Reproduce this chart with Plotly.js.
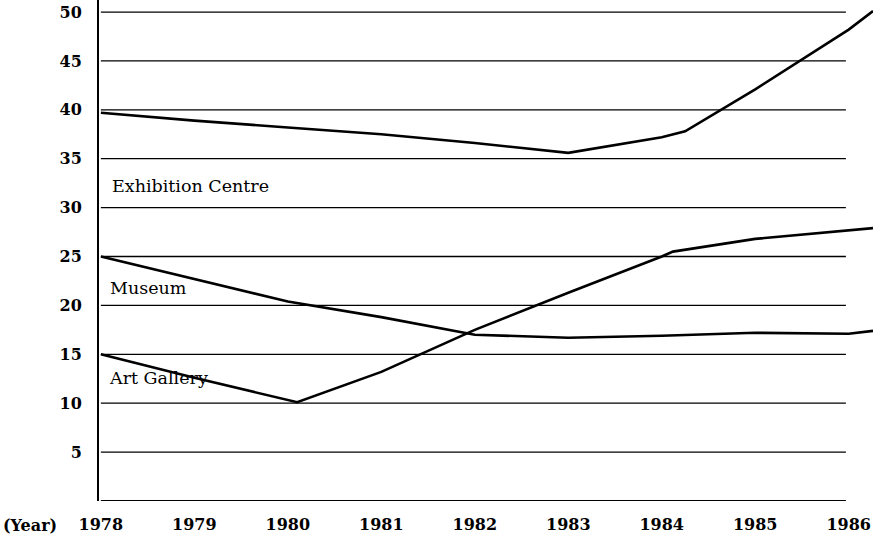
<!DOCTYPE html>
<html>
<head>
<meta charset="utf-8">
<script src="https://cdn.plot.ly/plotly-3.0.1.min.js"></script>
<style>html,body{margin:0;padding:0;background:#fff;}#chart{width:873px;height:539px;}</style>
</head>
<body>
<div id="chart"></div>
<script>
// Data (visitors, y units)
const exhibitionYears = [1978, 1979, 1980, 1981, 1982, 1983, 1984, 1984.25, 1985, 1986, 1986.26];
const exhibitionValues = [39.7, 38.9, 38.2, 37.5, 36.6, 35.6, 37.2, 37.8, 42.1, 48.2, 50.1];

const museumYears = [1978, 1979, 1980, 1981, 1982, 1983, 1984, 1985, 1986, 1986.26];
const museumValues = [25.0, 22.7, 20.4, 18.8, 17.0, 16.7, 16.9, 17.2, 17.1, 17.4];

const artYears = [1978, 1979, 1980.1, 1981, 1982, 1983, 1984, 1984.12, 1985, 1986, 1986.26];
const artValues = [15.0, 12.6, 10.1, 13.2, 17.5, 21.3, 25.0, 25.5, 26.8, 27.7, 27.9];

const seriesNames = ["Exhibition Centre", "Museum", "Art Gallery"];
const xTickYears = [1978, 1979, 1980, 1981, 1982, 1983, 1984, 1985, 1986];
const yTickValues = [5, 10, 15, 20, 25, 30, 35, 40, 45, 50];
const gridValues = [0, 5, 10, 15, 20, 25, 30, 35, 40, 45, 50];

const serif = "DejaVu Serif, Liberation Serif, serif";
const lineStyle = {color: "#000", width: 2.6};

const traces = [
  {x: exhibitionYears, y: exhibitionValues, name: seriesNames[0]},
  {x: museumYears, y: museumValues, name: seriesNames[1]},
  {x: artYears, y: artValues, name: seriesNames[2]}
].map(t => Object.assign(t, {type: "scatter", mode: "lines", line: lineStyle, hoverinfo: "skip"}));

const gridShapes = gridValues.map(v => ({
  type: "line", xref: "x", yref: "y",
  x0: 1978, x1: 1985.97, y0: v, y1: v,
  line: {color: "#000", width: v === 0 ? 2 : 1.3},
  layer: "below"
}));

const labelFont = {family: serif, size: 17.5, color: "#000"};
const annotations = [
  {x: 1978.1, y: 32.2, text: seriesNames[0], xanchor: "left", yanchor: "middle", showarrow: false, font: labelFont},
  {x: 1978.08, y: 21.8, text: seriesNames[1], xanchor: "left", yanchor: "middle", showarrow: false, font: labelFont},
  {x: 1978.07, y: 12.6, text: seriesNames[2], xanchor: "left", yanchor: "middle", showarrow: false, font: labelFont},
  {xref: "paper", yref: "paper", x: -0.052, y: -0.048, text: "(Year)", xanchor: "right", yanchor: "middle",
   showarrow: false, font: {family: serif, size: 16, color: "#000", weight: "bold"}}
];

const layout = {
  width: 873, height: 539,
  margin: {l: 99, r: 0, t: 0, b: 38},
  paper_bgcolor: "#fff", plot_bgcolor: "#fff",
  showlegend: false,
  xaxis: {
    range: [1977.98, 1986.26],
    tickvals: xTickYears,
    ticktext: xTickYears.map(String),
    showgrid: false, zeroline: false, showline: false, ticks: "",
    ticklabelstandoff: 12,
    tickfont: {family: serif, size: 16, color: "#000", weight: "bold"}
  },
  yaxis: {
    range: [0, 51.23],
    tickvals: yTickValues,
    ticktext: yTickValues.map(String),
    showgrid: false, zeroline: false,
    showline: true, linecolor: "#000", linewidth: 2,
    ticks: "", ticklabelstandoff: 12,
    tickfont: {family: serif, size: 16, color: "#000", weight: "bold"}
  },
  shapes: gridShapes,
  annotations: annotations
};

Plotly.newPlot("chart", traces, layout, {staticPlot: true, displayModeBar: false});
</script>
</body>
</html>
